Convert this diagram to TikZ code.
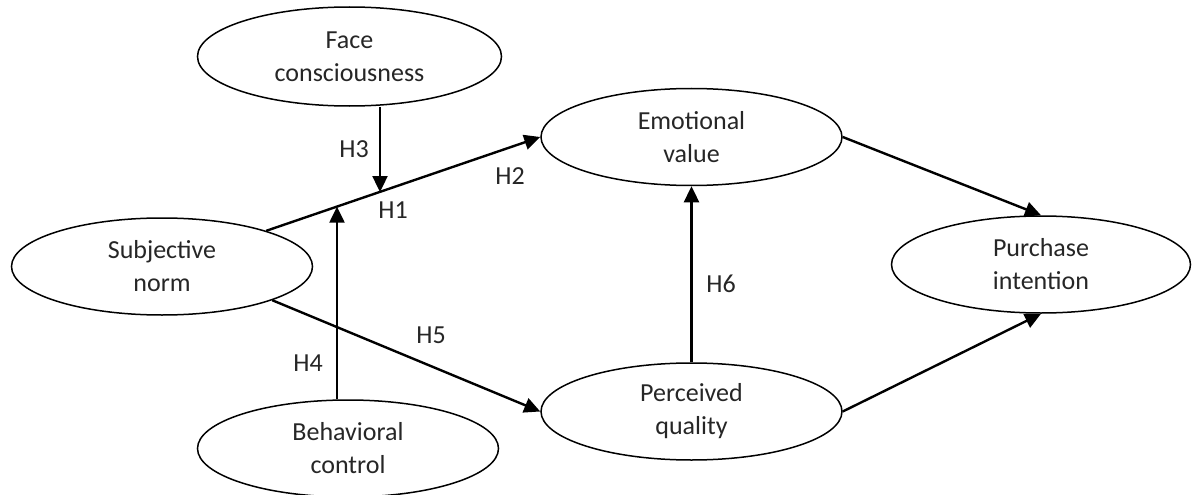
\documentclass[tikz,border=0pt]{standalone}
\usepackage{fontspec}
\setmainfont{Carlito}
\usetikzlibrary{shapes.geometric,arrows.meta}
\begin{document}
\begin{tikzpicture}[x=1pt,y=-1pt,
  font=\fontsize{26}{33}\selectfont,
  construct/.style={ellipse,draw,line width=1.5pt,inner sep=0pt,
    minimum width=301pt,minimum height=97pt,align=center,text=black!85},
  hlabel/.style={inner sep=0pt,text=black!85},
  arr/.style={line width=2.4pt,-{Triangle[length=16pt,width=15pt]}}]
\useasboundingbox (0,0) rectangle (1192,495);
\node[construct,minimum width=304pt,minimum height=99pt] (face) at (349.5,56.5) {Face\\consciousness};
\node[construct] (emo) at (691.5,137) {Emotional\\value};
\node[construct] (sub) at (162,266.5) {Subjective\\norm};
\node[construct,minimum width=299pt] (pur) at (1041,264.5) {Purchase\\intention};
\node[construct] (per) at (691.5,411.5) {Perceived\\quality};
\node[construct] (beh) at (348,448.5) {Behavioral\\control};
\coordinate (h3end) at (380,192);
\coordinate (h4end) at (337,206.7);
\draw[arr] (sub) -- (emo.west);
\draw[arr] (face.south -| h3end) -- (h3end);
\draw[arr] (beh.north -| h4end) -- (h4end);
\draw[arr] (sub.-17) -- (per.west);
\draw[arr] (per) -- (emo);
\draw[arr] (emo.east) -- (pur.north);
\draw[arr] (per.east) -- (pur.south);
\node[hlabel] (l3) at (354,149) {H3};
\node[hlabel] (l1) at (393,210) {H1};
\node[hlabel] (l2) at (510,176) {H2};
\node[hlabel] (l4) at (308,363) {H4};
\node[hlabel] (l5) at (431,335) {H5};
\node[hlabel] (l6) at (721,284) {H6};
\end{tikzpicture}
\end{document}
